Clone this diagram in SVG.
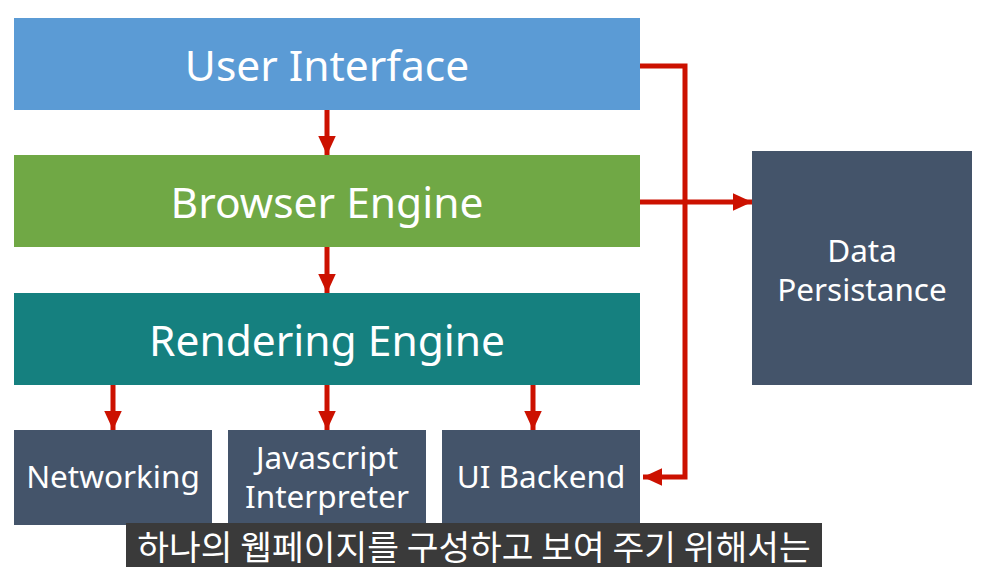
<svg xmlns="http://www.w3.org/2000/svg" width="988" height="575" viewBox="0 0 988 575">
<defs>
<style>
.t{font-family:"Noto Sans","Open Sans",sans-serif;fill:#fff;text-anchor:middle;dominant-baseline:central}
.big{font-size:42.5px}
.sm{font-size:31.5px}
.dark{fill:#44546A}
.c{stroke:#CC1100;stroke-width:5;fill:none}
.cap{font-family:"Noto Sans CJK KR",sans-serif;font-size:34.5px;fill:#fff;text-anchor:middle;dominant-baseline:central}
</style>
<marker id="ah" markerWidth="4" markerHeight="4" refX="3.8" refY="2" orient="auto" markerUnits="strokeWidth" viewBox="0 0 4 4"><path d="M0,0.25 L3.8,2 L0,3.75 Z" fill="#CC1100"/></marker>
</defs>
<rect width="988" height="575" fill="#fff"/>
<g id="user-interface"><rect x="14" y="18" width="626" height="92" fill="#5B9BD5"/><text class="t big" x="327" y="64">User Interface</text></g>
<g id="browser-engine"><rect x="14" y="155" width="626" height="92" fill="#70A845"/><text class="t big" x="327" y="201">Browser Engine</text></g>
<g id="rendering-engine"><rect x="14" y="293" width="626" height="92" fill="#15807F"/><text class="t big" x="327" y="339">Rendering Engine</text></g>
<g id="networking"><rect class="dark" x="14" y="430" width="198" height="95"/><text class="t sm" x="113" y="475">Networking</text></g>
<g id="javascript-interpreter"><rect class="dark" x="228" y="430" width="198" height="95"/><text class="t sm" x="327" y="456">Javascript</text><text class="t sm" x="327" y="495">Interpreter</text></g>
<g id="ui-backend"><rect class="dark" x="442" y="430" width="198" height="95"/><text class="t sm" x="541" y="475">UI Backend</text></g>
<g id="data-persistance"><rect class="dark" x="752" y="151" width="220" height="234"/><text class="t sm" x="862" y="249">Data</text><text class="t sm" x="862" y="288">Persistance</text></g>
<g id="connectors">
<line class="c" x1="327" y1="110" x2="327" y2="155" marker-end="url(#ah)"/>
<line class="c" x1="327" y1="247" x2="327" y2="293" marker-end="url(#ah)"/>
<line class="c" x1="113" y1="385" x2="113" y2="430" marker-end="url(#ah)"/>
<line class="c" x1="327" y1="385" x2="327" y2="430" marker-end="url(#ah)"/>
<line class="c" x1="533" y1="385" x2="533" y2="430" marker-end="url(#ah)"/>
<polyline class="c" points="640,66 685,66 685,477 643,477" marker-end="url(#ah)"/>
<line class="c" x1="640" y1="202" x2="752" y2="202" marker-end="url(#ah)"/>
</g>
<g id="caption"><rect x="126" y="523" width="696" height="44" fill="#3A3A3A"/><text class="cap" x="474" y="545">하나의 웹페이지를 구성하고 보여 주기 위해서는</text></g>
</svg>
